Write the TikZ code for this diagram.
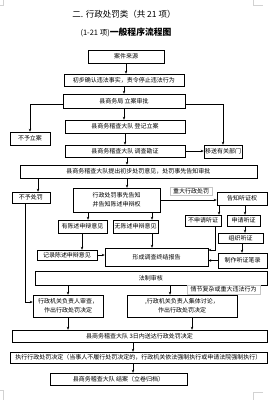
\documentclass[tikz,border=0pt]{standalone}
\usepackage{fontspec}
\setmainfont{Noto Sans CJK SC}
\usetikzlibrary{arrows.meta}

\begin{document}
\begin{tikzpicture}[x=1pt,y=-1pt,
box/.style={draw, line width=0.5pt, inner sep=0pt, align=center, font=\fontsize{6}{9}\selectfont},
tag/.style={draw=gray!45, line width=0.4pt, inner sep=1pt, font=\fontsize{6}{8}\selectfont},
arr/.style={-{Stealth[length=3pt,width=2.4pt]}, line width=0.4pt},
cropline/.style={draw=gray!35, line width=0.4pt}
]

\useasboundingbox (0,0) rectangle (277,400);

% Page corners
\draw[cropline] (0,5) -- (3,5) -- (3,0);
\draw[cropline] (253,0) -- (253,5) -- (263,5);
\draw[cropline] (0,390) -- (3,390) -- (3,400);
\draw[cropline] (263,392) -- (253,392) -- (253,400);

% Title
\node[font=\fontsize{8.5}{10}\selectfont] (title) at (124,14)
{二. 行政处罚类（共 21 项）};
\node (subtitle) at (126,32)
{{\fontsize{7.5}{9}\selectfont (1-21 项)}{\fontsize{8.8}{10}\selectfont\bfseries 一般程序流程图}};

% Case filing
\node[box, minimum width=76pt, minimum height=13pt] (src) at (126,56.5) {案件来源};
\node[box, minimum width=120pt, minimum height=12pt] (confirm) at (124,80) {初步确认违法事实，责令停止违法行为};
\node[box, minimum width=122pt, minimum height=14pt] (approve) at (124,101) {县商务局 立案审批};
\node[box, minimum width=40pt, minimum height=13pt] (noCase) at (30,138.5) {不予立案};
\node[box, minimum width=120pt, minimum height=13pt] (register) at (125,126.5) {县商务稽查大队 登记立案};
\node[box, minimum width=120pt, minimum height=12pt] (investigate) at (125,151) {县商务稽查大队 调查勘证};
\node[box, minimum width=38pt, minimum height=13pt] (transfer) at (223,151.5) {移送有关部门};

% Notification
\node[box, minimum width=237pt, minimum height=13pt] (preliminary) at (138.5,171.5) {县商务稽查大队提出初步处罚意见，处罚事先告知审批};
\node[box, minimum width=38pt, minimum height=11pt] (noPenalty) at (31,197.5) {不予处罚};
\node[box, minimum width=87pt, minimum height=24pt] (notify) at (116.5,200) {行政处罚事先告知\\并告知陈述申辩权};
\node[box, minimum width=49pt, minimum height=13pt] (statement) at (82.5,226.5) {有陈述申辩意见};
\node[box, minimum width=45pt, minimum height=13pt] (noStatement) at (135.5,226.5) {无陈述申辩意见};
\node[box, minimum width=60pt, minimum height=10pt] (record) at (67,255) {记录陈述申辩意见};
\node[box, minimum width=103pt, minimum height=18pt] (report) at (156.5,257) {形成调查终结报告};

% Hearing
\node[tag, minimum width=42pt, minimum height=8pt] (major) at (191,191) {重大行政处罚};
\node[box, minimum width=50pt, minimum height=13pt] (hearingRight) at (242,198.5) {告知听证权};
\node[box, minimum width=36pt, minimum height=11pt] (noHearing) at (203,220.5) {不申请听证};
\node[box, minimum width=33pt, minimum height=11pt] (applyHearing) at (243.5,220.5) {申请听证};
\node[box, minimum width=45pt, minimum height=10pt] (organize) at (240.5,238) {组织听证};
\node[box, minimum width=49pt, minimum height=15pt] (transcript) at (242.5,260.5) {制作听证笔录};

% Decision
\node[box, minimum width=232pt, minimum height=14pt] (legal) at (151,278) {法制审核};
\node[tag, minimum width=73pt, minimum height=9pt] (complex) at (223.5,289.5) {情节复杂或重大违法行为};
\node[box, minimum width=70pt, minimum height=22pt] (review) at (68,306) {行政机关负责人审查，\\作出行政处罚决定};
\node[box, minimum width=110pt, minimum height=22pt] (collective) at (182,306) {,行政机关负责人集体讨论，\\作出行政处罚决定};
\node[box, minimum width=255pt, minimum height=12pt] (deliver) at (139.5,336) {县商务稽查大队 3日内送达行政处罚决定};
\node[box, minimum width=257pt, minimum height=11pt] (execute) at (138.5,357.5) {执行行政处罚决定（当事人不履行处罚决定的，行政机关依法强制执行或申请法院强制执行）};
\node[box, minimum width=137pt, minimum height=12pt] (close) at (118.5,379) {县商务稽查大队 结案（立卷归档）};

% Straight arrows
\foreach \a/\b/\x in {
src/confirm/126, confirm/approve/124, approve/register/124,
register/investigate/125, investigate/preliminary/127,
preliminary/noPenalty/38, preliminary/notify/127,
notify/statement/88, notify/noStatement/152,
statement/record/82, noStatement/report/152,
hearingRight/noHearing/219, hearingRight/applyHearing/245,
applyHearing/organize/245, organize/transcript/242,
legal/review/68, legal/collective/170,
review/deliver/68, collective/deliver/192,
deliver/execute/133, execute/close/133
}
{
\draw[arr] (\a.south -| \x,0) -- (\b.north -| \x,0);
}

% Bent arrows
\draw[arr] ([yshift=-3pt]approve.west) -| (noCase.north);
\draw[arr] ([yshift=-3pt]approve.east) -| (transfer.north);
\draw[arr] (investigate.east) -- (investigate.east -| transfer.west);
\draw[arr] ([xshift=-6pt]noPenalty.south) |- ([yshift=4pt]review.west);
\draw[arr] (notify.east) -- (notify.east -| hearingRight.west);
\draw[arr] ([xshift=12pt]noHearing.south) |- ([yshift=7pt]report.east);
\draw[arr] (transcript.west) -- (transcript.west -| report.east);
\draw[arr] (record.east) -- (record.east -| report.west);

\end{tikzpicture}
\end{document}
